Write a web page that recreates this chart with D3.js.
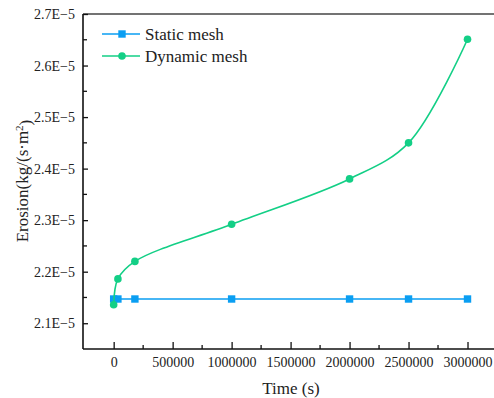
<!DOCTYPE html>
<html>
<head>
<meta charset="utf-8">
<script src="https://cdn.jsdelivr.net/npm/d3@7"></script>
<style>
  body { margin: 0; background: #fff; }
  svg text { font-family: "Liberation Serif", "DejaVu Serif", serif !important; fill: #222; }
</style>
</head>
<body>
<svg id="chart"></svg>
<script>
const svgWidth = 494, svgHeight = 398;

// data
const times = [0, 36000, 180000, 1000000, 2000000, 2500000, 3000000];
const staticMesh = [2.147, 2.147, 2.147, 2.147, 2.147, 2.147, 2.147];   // x1E-5
const dynamicMesh = [2.136, 2.186, 2.220, 2.292, 2.380, 2.450, 2.651];  // x1E-5
const xTicks = [0, 500000, 1000000, 1500000, 2000000, 2500000, 3000000];
const yTicks = [2.1, 2.2, 2.3, 2.4, 2.5, 2.6, 2.7];

const colors = {stat: "#0a9ef2", dyn: "#13cf86"};
const serif = "'Liberation Serif', serif";

const chart = d3.select("#chart")
    .attr("width", svgWidth)
    .attr("height", svgHeight);

const plotLeft = 83, plotTop = 14, plotBottom = 349, plotRight = 497;

var xScale = d3.scaleLinear().domain([-260000, 3250000]).range([plotLeft, plotRight]);
var yScale = d3.scaleLinear().domain([2.05, 2.7]).range([plotBottom, plotTop]);

// frame
chart.append("line").attr("x1", plotLeft).attr("x2", svgWidth + 5).attr("y1", plotTop).attr("y2", plotTop)
    .attr("stroke", "#444").attr("stroke-width", 1.6);

// x axis, ticks inward
var xAxis = d3.axisBottom(xScale).tickValues(xTicks).tickSize(-7).tickPadding(12)
    .tickFormat(d3.format("d"));
var gx = chart.append("g").attr("transform", "translate(0," + plotBottom + ")").call(xAxis)
    .attr("font-family", serif);
gx.select(".domain").attr("d", "M" + plotLeft + ",0H" + (svgWidth + 5)).attr("stroke", "#111").attr("stroke-width", 1.6);
gx.selectAll(".tick line").attr("stroke", "#111").attr("stroke-width", 1.3);
gx.selectAll(".tick text").style("font-size", "14px").attr("dy", "0.35em").attr("y", 13);

var xMinor = d3.range(250000, 3250000, 500000);
chart.append("g").selectAll("line").data(xMinor).enter().append("line")
    .attr("x1", d => xScale(d)).attr("x2", d => xScale(d))
    .attr("y1", plotBottom).attr("y2", plotBottom - 4)
    .attr("stroke", "#111").attr("stroke-width", 1.3);

// y axis, ticks inward
var yAxis = d3.axisLeft(yScale).tickValues(yTicks).tickSize(-5).tickPadding(8)
    .tickFormat(d => d3.format(".1f")(d) + "E\u22125");
var gy = chart.append("g").attr("transform", "translate(" + plotLeft + ",0)").call(yAxis)
    .attr("font-family", serif);
gy.select(".domain").attr("d", "M0," + plotTop + "V" + plotBottom).attr("stroke", "#111").attr("stroke-width", 1.6);
gy.selectAll(".tick line").attr("stroke", "#111").attr("stroke-width", 1.3);
gy.selectAll(".tick text").style("font-size", "14px").attr("fill", "#333");

var yMinor = [2.15, 2.25, 2.35, 2.45, 2.55, 2.65];
chart.append("g").selectAll("line").data(yMinor).enter().append("line")
    .attr("x1", plotLeft).attr("x2", plotLeft + 4)
    .attr("y1", d => yScale(d)).attr("y2", d => yScale(d))
    .attr("stroke", "#111").attr("stroke-width", 1.3);

// axis titles
chart.append("text")
    .attr("x", 291).attr("y", 394)
    .style("text-anchor", "middle").style("font-size", "17px")
    .text("Time (s)");

var yt = chart.append("text")
    .attr("transform", "translate(28," + 181 + ") rotate(-90)")
    .style("text-anchor", "middle").style("font-size", "17px");
yt.append("tspan").text("Erosion(kg/(s\u00b7m");
yt.append("tspan").attr("dy", "-0.45em").style("font-size", "11px").text("2");
yt.append("tspan").attr("dy", "0.45em").text(")");

// series
var staticData = times.map((t, i) => ({t: t, v: staticMesh[i]}));
var dynData = times.map((t, i) => ({t: t, v: dynamicMesh[i]}));

var valueline = d3.line()
    .x(d => xScale(d.t))
    .y(d => yScale(d.v));

chart.append("path").datum(staticData)
    .attr("d", valueline.curve(d3.curveLinear))
    .attr("fill", "none").attr("stroke", colors.stat).attr("stroke-width", 1.6);
chart.append("g").selectAll("rect").data(staticData).enter().append("rect")
    .attr("x", d => xScale(d.t) - 3.7).attr("y", d => yScale(d.v) - 3.7)
    .attr("width", 7.4).attr("height", 7.4).attr("fill", colors.stat);

chart.append("path").datum(dynData)
    .attr("d", valueline.curve(d3.curveCatmullRom))
    .attr("fill", "none").attr("stroke", colors.dyn).attr("stroke-width", 1.6);
chart.append("g").selectAll("circle").data(dynData).enter().append("circle")
    .attr("cx", d => xScale(d.t)).attr("cy", d => yScale(d.v))
    .attr("r", 3.8).attr("fill", colors.dyn);

// legend
var legend = [
    {name: "Static mesh", color: colors.stat, shape: "square"},
    {name: "Dynamic mesh", color: colors.dyn, shape: "circle"}
];
var lg = chart.append("g").selectAll("g").data(legend).enter().append("g")
    .attr("transform", (d, i) => "translate(102," + (34 + i * 22) + ")");
lg.append("line").attr("x1", 0).attr("x2", 38).attr("y1", 0).attr("y2", 0)
    .attr("stroke", d => d.color).attr("stroke-width", 1.6);
lg.filter(d => d.shape == "square").append("rect")
    .attr("x", 16.3).attr("y", -3.7).attr("width", 7.4).attr("height", 7.4)
    .attr("fill", d => d.color);
lg.filter(d => d.shape == "circle").append("circle")
    .attr("cx", 20).attr("cy", 0).attr("r", 3.8).attr("fill", d => d.color);
lg.append("text").attr("x", 43).attr("y", 0).attr("dy", "0.33em")
    .style("font-size", "17px").text(d => d.name);
</script>
</body>
</html>
